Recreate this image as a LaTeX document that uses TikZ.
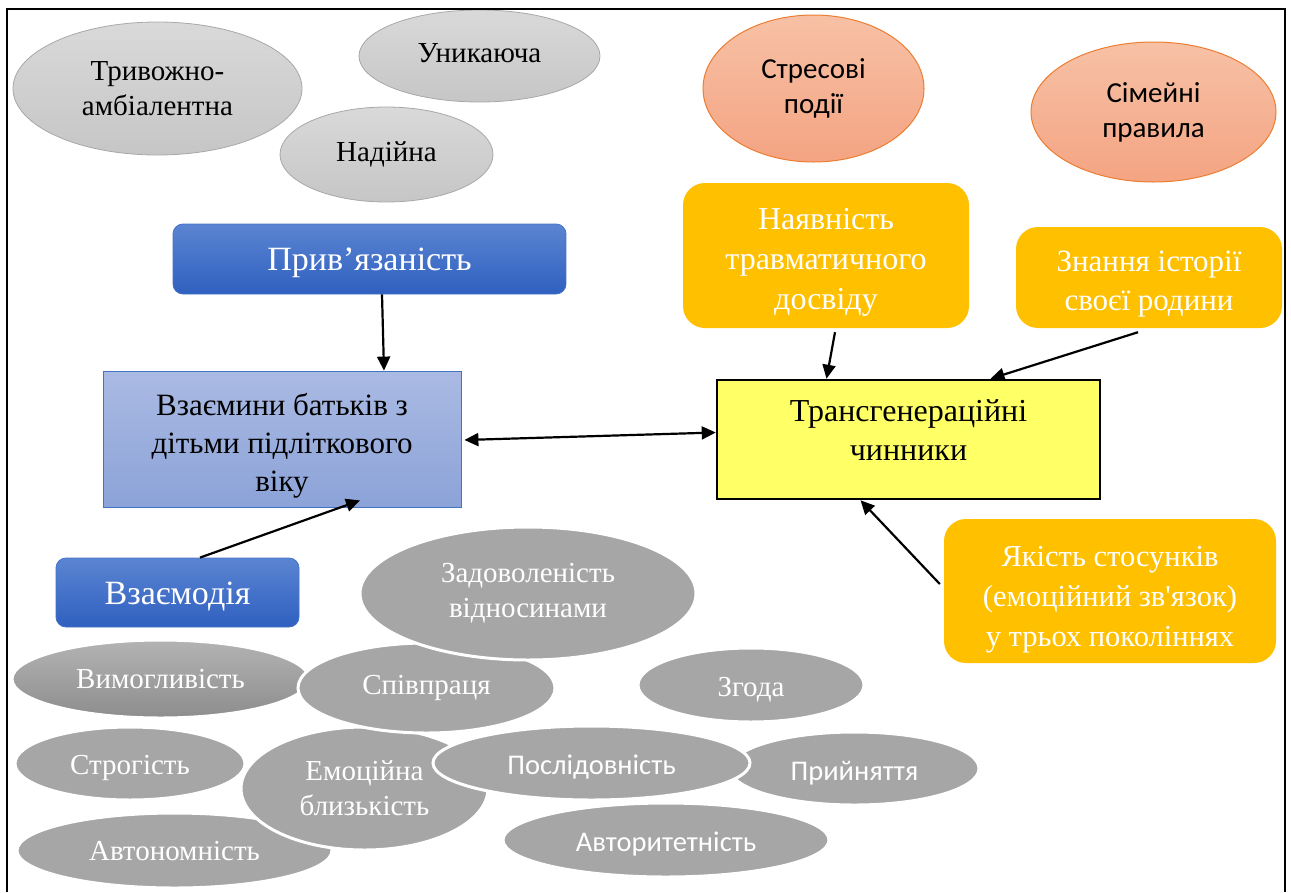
\documentclass[tikz,border=0pt]{standalone}
\usepackage{fontspec}
\setmainfont{Liberation Serif}[Ligatures=TeXOff]
\newfontfamily\calibri{Carlito}
\usetikzlibrary{shapes.geometric,arrows.meta}

\definecolor{ovaltop}{HTML}{D9D9D9}
\definecolor{ovalbot}{HTML}{C6C6C6}
\definecolor{ovalline}{HTML}{A8A8A8}
\definecolor{peachtop}{HTML}{F7C1A6}
\definecolor{peachbot}{HTML}{F4A482}
\definecolor{peachline}{HTML}{ED7D31}
\definecolor{bluetop}{HTML}{5B85D2}
\definecolor{bluebot}{HTML}{2F60C0}
\definecolor{blueline}{HTML}{4472C4}
\definecolor{paletop}{HTML}{AABAE3}
\definecolor{palebot}{HTML}{8CA3D8}
\definecolor{lemon}{HTML}{FFFF66}
\definecolor{gold}{HTML}{FFC000}
\definecolor{midgrey}{HTML}{A6A6A6}

\newcommand{\sz}[2]{\fontsize{#1}{#2}\selectfont}
% centred lines of text, moved up by the optional amount (box keeps its size)
\newcommand{\stack}[2][0pt]{\raisebox{#1}[\height][\depth]{\begin{tabular}{@{}c@{}}#2\end{tabular}}}
% one line of text moved down by the given amount (box keeps its size)
\newcommand{\low}[2]{\raisebox{-#1}[\height][\depth]{#2}}

\tikzset{
  lightoval/.style={ellipse, draw=ovalline, line width=0.8pt, top color=ovaltop,
    bottom color=ovalbot, inner sep=0pt, align=center, font=\sz{29}{35}},
  peachoval/.style={ellipse, draw=peachline, line width=1pt, top color=peachtop,
    bottom color=peachbot, inner sep=0pt, align=center, font=\calibri\sz{29}{35}},
  blueslab/.style={rectangle, rounded corners=10pt, draw=blueline, line width=0.8pt,
    top color=bluetop, bottom color=bluebot, text=white, inner sep=0pt, font=\sz{34}{40}},
  goldslab/.style={rectangle, rounded corners=22pt, fill=gold, text=white,
    inner sep=0pt},
  greyoval/.style={ellipse, fill=midgrey, draw=white, line width=3pt, text=white,
    inner sep=0pt, align=center, font=\sz{29}{35}},
  sansoval/.style={greyoval, font=\calibri\sz{28.5}{34}},
  arr/.style={line width=2.2pt, -{Triangle[length=14pt,width=13pt]}},
  duo/.style={line width=2.2pt, {Triangle[length=14pt,width=13pt]}-{Triangle[length=14pt,width=13pt]}},
}

\begin{document}
\begin{tikzpicture}[x=1pt,y=-1pt]
\useasboundingbox (0,0) rectangle (1291,892);
\fill[white] (0,0) rectangle (1291,892);

% attachment styles
\node[lightoval, minimum width=289, minimum height=133] (trv) at (157.5,88.5) {Тривожно-\\амбіалентна};
\node[lightoval, minimum width=241, minimum height=92] (unk) at (479.5,56) {\low{-3pt}{Уникаюча}};
\node[lightoval, minimum width=213, minimum height=95] (nad) at (386.5,154.5) {Надійна};

% family background
\node[peachoval, minimum width=221, minimum height=147] (str) at (813.5,88.5) {Стресові\\події};
\node[peachoval, minimum width=245, minimum height=140] (sim) at (1153.5,112) {Сімейні\\правила};

% main blocks
\node[blueslab, minimum width=393, minimum height=70] (priv) at (369.5,259) {\low{4pt}{Прив’язаність}};
\node[blueslab, minimum width=243, minimum height=69] (vzd) at (177.5,592.5) {\low{4pt}{Взаємодія}};

\node[rectangle, draw=blueline, line width=0.8pt, top color=paletop, bottom color=palebot,
  minimum width=358, minimum height=136, inner sep=0pt, font=\sz{31}{38}]
  (vzm) at (282,439) {\stack[-7pt]{Взаємини батьків з\\дітьми підліткового\\віку}};

\node[rectangle, draw=black, line width=2.5pt, fill=lemon, minimum width=383,
  minimum height=119, inner sep=0pt, font=\sz{32}{39}]
  (tr) at (908.5,439.5) {\stack[6pt]{Трансгенераційні\\чинники}};

\node[goldslab, minimum width=286, minimum height=145, font=\sz{32}{40}] (nav) at (826,255.5)
  {\stack[-6pt]{Наявність\\травматичного\\досвіду}};
\node[goldslab, minimum width=266, minimum height=101, font=\sz{31}{39}] (zn) at (1149,277.5)
  {\stack[-6pt]{Знання історії\\своєї родини}};
\node[goldslab, minimum width=332, minimum height=144, font=\sz{30.5}{40}] (yak) at (1110,591)
  {\stack[-7pt]{Якість стосунків\\(емоційний зв'язок)\\у трьох поколіннях}};

% interaction aspects
\node[greyoval, minimum width=297, minimum height=78, top color=midgrey!85!white,
  bottom color=midgrey!85!black] (vym) at (160.5,679) {Вимогливість};
\node[greyoval, minimum width=230, minimum height=73] (strg) at (130,763.5) {\low{4pt}{Строгість}};
\node[greyoval, minimum width=315, minimum height=75] (avt) at (174.5,850.5) {\low{1pt}{Автономність}};
\node[greyoval, minimum width=226, minimum height=74] (zg) at (751,685) {\low{5pt}{Згода}};
\node[sansoval, minimum width=249, minimum height=73] (pry) at (854.5,768.5) {\low{5pt}{Прийняття}};
\node[sansoval, minimum width=326, minimum height=74] (avr) at (666,840) {\low{4pt}{Авторитетність}};
\node[greyoval, minimum width=247, minimum height=123] (emo) at (364.5,788.5) {Емоційна\\близькість};
\node[greyoval, minimum width=257, minimum height=90] (spv) at (426.5,688) {Співпраця};
\node[greyoval, minimum width=336, minimum height=133] (zad) at (528,593.5) {Задоволеність\\відносинами};
\node[sansoval, minimum width=317, minimum height=74] (psl) at (591.5,763) {\low{4pt}{Послідовність}};

% connectors
\draw[arr] ([xshift=12.5pt]priv.south) -- ([xshift=102pt]vzm.north);
\draw[arr] ([xshift=22.5pt]vzd.north) -- ([xshift=78pt,yshift=7pt]vzm.south);
\draw[duo] ([xshift=3pt,yshift=-1pt]vzm.east) -- ([yshift=7pt]tr.west);
\draw[arr] ([xshift=9pt,yshift=-4pt]nav.south) -- ([xshift=-82pt]tr.north);
\draw[arr] ([xshift=-11pt,yshift=-4pt]zn.south) -- ([xshift=82pt]tr.north);
\draw[arr] ([xshift=-4pt,yshift=7pt]yak.west) -- ([xshift=-48pt]tr.south);

% frame
\draw[line width=2.5pt] (7,892) -- (7,9) -- (1285,9) -- (1285,892);
\end{tikzpicture}
\end{document}
